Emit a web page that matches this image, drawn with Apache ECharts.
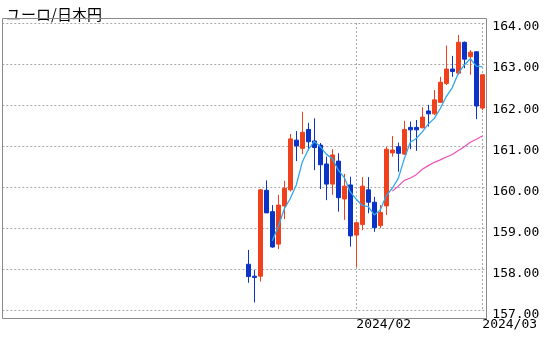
<!DOCTYPE html>
<html>
<head>
<meta charset="utf-8">
<script src="https://cdn.jsdelivr.net/npm/echarts@6/dist/echarts.min.js"></script>
<style>html,body{margin:0;padding:0;background:#fff}#c{width:560px;height:344px}</style>
</head>
<body>
<div id="c"></div>
<script>
// ---- data ----
const title = 'ユーロ/日本円';
const dates = ['2024-01-08','2024-01-09','2024-01-10','2024-01-11','2024-01-12','2024-01-15','2024-01-16','2024-01-17','2024-01-18','2024-01-19','2024-01-22','2024-01-23','2024-01-24','2024-01-25','2024-01-26','2024-01-29','2024-01-30','2024-01-31','2024-02-01','2024-02-02','2024-02-05','2024-02-06','2024-02-07','2024-02-08','2024-02-09','2024-02-12','2024-02-13','2024-02-14','2024-02-15','2024-02-16','2024-02-19','2024-02-20','2024-02-21','2024-02-22','2024-02-23','2024-02-26','2024-02-27','2024-02-28','2024-02-29','2024-03-01'];
const opens  = [158.13,157.84,157.84,159.93,159.41,158.62,159.55,159.94,161.15,160.95,161.41,161.13,161.03,160.57,160.08,160.64,159.72,160.06,158.84,159.10,159.94,159.64,159.07,159.55,160.84,160.99,160.81,161.46,161.46,161.45,161.86,161.79,162.07,162.53,162.88,162.78,163.53,163.18,163.30,161.93];
const closes = [157.83,157.81,159.94,159.38,158.55,159.57,159.98,161.18,161.01,161.34,161.11,160.97,160.55,160.08,160.79,159.75,160.03,158.82,159.14,160.03,159.64,159.02,159.39,160.93,160.91,160.83,161.41,161.40,161.40,161.71,161.79,162.13,162.56,162.88,162.82,163.53,163.12,163.29,161.98,162.74];
const lows   = [157.68,157.20,157.71,159.38,158.53,158.50,159.23,159.90,160.64,160.81,160.90,160.42,159.96,159.69,159.82,159.41,159.21,158.56,158.06,158.96,159.37,158.92,159.01,159.33,160.75,160.38,160.79,160.93,160.89,161.44,161.48,161.76,162.05,162.49,162.69,162.74,162.90,162.74,161.66,161.88];
const highs  = [158.48,157.99,159.96,160.17,159.57,159.82,160.16,161.30,161.37,161.84,161.57,161.68,161.08,160.75,160.93,160.83,160.33,160.26,159.17,160.25,160.25,159.77,159.57,160.99,161.25,161.09,161.62,161.60,161.64,161.95,162.01,162.37,162.69,163.45,163.20,163.71,163.55,163.34,163.31,162.75];
// 5-day average line (first value at 5th candle)
const ma5  = [158.70,159.05,159.48,159.73,160.06,160.62,160.92,161.12,160.99,160.81,160.70,160.42,160.24,159.89,159.71,159.56,159.53,159.33,159.45,159.80,159.98,160.22,160.70,161.10,161.19,161.35,161.54,161.68,161.92,162.21,162.43,162.78,162.98,163.13,162.95,162.93];
// 25-day average line (first value at 25th candle)
const ma25 = [159.91,160.03,160.17,160.23,160.31,160.44,160.53,160.61,160.67,160.74,160.80,160.90,160.99,161.10,161.17,161.25];
const tickDates  = ['2024-02-01','2024-03-01'];
const tickLabels = ['2024/02','2024/03'];
const yMin = 157, yMax = 164, yStep = 1;
const padBefore = 41, padAfter = 1;

// ---- build ----
const cats = [];
for (let i = 0; i < padBefore; i++) cats.push('pad' + i);
dates.forEach(d => cats.push(d));
for (let i = 0; i < padAfter; i++) cats.push('padE' + i);

const candle = dates.map((d, i) => [padBefore + i, opens[i], closes[i], lows[i], highs[i]]);
const ma5Data = ma5.map((v, i) => [padBefore + 4 + i, v]);
const ma25Data = ma25.map((v, i) => [padBefore + 24 + i, v]);
const tickIdx = tickDates.map(d => cats.indexOf(d));

const RED = '#f0401c', BLUE = '#0a34c8';
const gridLine = {color: '#a8a8a8', width: 1, type: [2, 2]};
const numFont = 'DejaVu Sans Mono';

const chart = echarts.init(document.getElementById('c'), null, {renderer: 'canvas'});
chart.setOption({
  animation: false,
  backgroundColor: '#fff',
  title: {
    text: title, left: 1, top: 2,
    textStyle: {fontFamily: 'Noto Sans CJK JP', fontSize: 15, fontWeight: 'normal', color: '#000'}
  },
  grid: {left: 2.3, right: 560 - 488.3, top: 23, bottom: 344 - 310.7, containLabel: false},
  xAxis: {
    type: 'category', data: cats, boundaryGap: false,
    axisLine: {show: false}, axisTick: {show: false},
    axisLabel: {
      interval: (i) => tickIdx.indexOf(i) >= 0,
      formatter: (v) => { const k = tickDates.indexOf(v); return k >= 0 ? tickLabels[k] : ''; },
      align: 'left', margin: 7, color: '#000', fontFamily: numFont, fontSize: 13
    },
    splitLine: {show: true, interval: (i) => tickIdx.indexOf(i) >= 0, lineStyle: gridLine}
  },
  yAxis: {
    type: 'value', position: 'right', min: yMin, max: yMax, interval: yStep, scale: true,
    axisLine: {show: false}, axisTick: {show: false},
    axisLabel: {formatter: (v) => v.toFixed(2), margin: 4, color: '#000', fontFamily: numFont, fontSize: 13, verticalAlign: 'top', lineHeight: 8},
    splitLine: {show: true, lineStyle: gridLine}
  },
  series: [
    {
      type: 'candlestick', data: candle, encode: {x: 0, y: [1, 2, 3, 4]},
      barWidth: 5,
      itemStyle: {color: RED, color0: BLUE, borderColor: RED, borderColor0: BLUE, borderWidth: 1}
    },
    {type: 'line', data: ma5Data, showSymbol: false, symbol: 'none', lineStyle: {color: '#30a8ec', width: 1.3}, z: 3},
    {type: 'line', data: ma25Data, showSymbol: false, symbol: 'none', lineStyle: {color: '#ec50b8', width: 1.2}, z: 3}
  ],
  graphic: [
    {type: 'rect', z: 100, silent: true, shape: {x: 487, y: 17, width: 4, height: 303}, style: {fill: '#fff'}},
    {type: 'rect', z: 101, silent: true, shape: {x: 2.5, y: 18.5, width: 484, height: 300}, style: {fill: 'none', stroke: '#8a8a8a', lineWidth: 1}}
  ]
});
</script>
</body>
</html>
